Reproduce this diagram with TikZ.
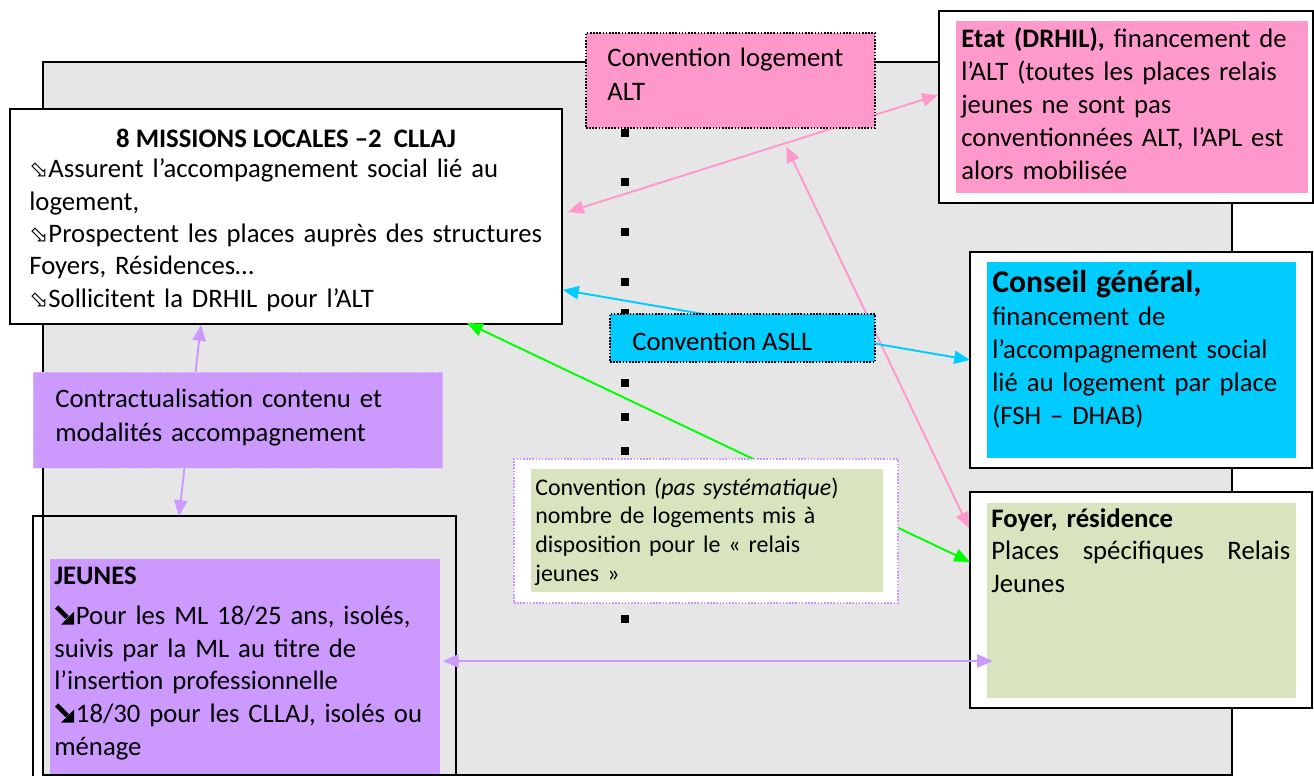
\documentclass[tikz,border=0pt]{standalone}
\usepackage{fontspec}
\setmainfont{Carlito}
\newfontfamily\symfont{DejaVu Sans}
\usepackage{tikz}
\usetikzlibrary{arrows.meta,positioning}
\definecolor{fondgris}{HTML}{E6E6E6}
\definecolor{rosealt}{HTML}{FF99CC}
\definecolor{bleuasll}{HTML}{00CCFF}
\definecolor{mauve}{HTML}{CC99FF}
\definecolor{vertpale}{HTML}{D7E4BD}
\definecolor{vertvif}{HTML}{00FF00}
\tikzset{
	cadre/.style={anchor=north west,inner sep=0pt,outer sep=0pt,draw=black,line width=0.85pt,fill=white},
	fond/.style={anchor=north west,inner sep=0pt,outer sep=0pt},
	pointille/.style={draw=black,line width=0.85pt,dash pattern=on 0.9pt off 0.9pt},
	texte/.style={anchor=base west,inner sep=0pt,align=left}}
\newcommand{\puce}{{\symfont\fontsize{13}{13}\selectfont ⬂}}
% fleche noire epaisse
\newcommand{\pucenoire}{\tikz[baseline=0pt]{\draw[line width=2.6pt] (0.5pt,10pt) -- (6.5pt,4pt);
		\fill (10.5pt,0pt) -- (10.5pt,7.5pt) -- (3pt,0pt) -- cycle;}\hspace{1pt}}
\newcommand{\taille}[1]{\fontsize{15.2}{#1}\selectfont}

\begin{document}
\begin{tikzpicture}[x=0.02cm,y=-0.02cm,
		lien/.style={line width=1.1pt,{Triangle[length=9pt,width=7.5pt]}-{Triangle[length=9pt,width=7.5pt]}}]
	\useasboundingbox (0,0) rectangle (1314,776);
	
	% fond gris
	\draw[fill=fondgris,line width=0.85pt] (43,62) rectangle (1232,775);
	\foreach \y in {133,182,232,282,313,383,417,451,619}
		\fill (621,\y-4) rectangle (629,\y+4);
	
	% missions locales
	\node[cadre,minimum width=11.04cm,minimum height=4.30cm] (missions) at (10,109) {};
	\node[font=\bfseries\taille{18.4},anchor=base,inner sep=0pt] (missionstitre) at (286,148) {8 MISSIONS LOCALES –2\ \ CLLAJ};
	\node[texte,text width=10.7cm,font=\taille{18.4}] (missionstxt) at (29,178) {\puce Assurent l’accompagnement social lié au\\logement,\\\puce Prospectent les places auprès des structures\\Foyers, Résidences…\\\puce Sollicitent la DRHIL pour l’ALT};
	
	% etat
	\node[cadre,minimum width=7.48cm,minimum height=3.84cm] (etatcadre) at (939,11) {};
	\node[fond,fill=rosealt,minimum width=7.04cm,minimum height=3.44cm] (etatfond) at (956,21) {};
	\node[texte,text width=6.9cm,font=\taille{18.7}] (etat) at (961,48) {\textbf{Etat (DRHIL),} financement de\\l’ALT (toutes les places relais\\jeunes ne sont pas\\conventionnées ALT, l’APL est\\alors mobilisée};
	
	% conseil general
	\node[cadre,minimum width=6.84cm,minimum height=4.32cm] (conseilcadre) at (970,252) {};
	\node[fond,fill=bleuasll,minimum width=6.18cm,minimum height=3.92cm] (conseilfond) at (987,262) {};
	\node[texte,text width=6cm,font=\taille{18.7}] (conseil) at (992,293) {{\fontsize{18}{19}\selectfont\bfseries Conseil général,}\\financement de\\l’accompagnement social\\lié au logement par place\\(FSH – DHAB)};
	
	% jeunes
	\node[cadre,fill=none,minimum width=8.46cm,minimum height=5.28cm] (jeunescadre) at (33,516) {};
	\node[fond,fill=mauve,minimum width=7.80cm,minimum height=4.30cm] (jeunesfond) at (50,559) {};
	\node[texte,text width=7.6cm,font=\taille{18.6}] (jeunes) at (54,584) {\textbf{JEUNES}\\[4.5pt]\pucenoire Pour les ML 18/25 ans, isolés,\\suivis par la ML au titre de\\l’insertion professionnelle\\\pucenoire 18/30 pour les CLLAJ, isolés ou\\ménage};
	
	% foyer
	\node[cadre,minimum width=6.84cm,minimum height=4.32cm] (foyercadre) at (970,492) {};
	\node[fond,fill=vertpale,minimum width=6.18cm,minimum height=3.90cm] (foyerfond) at (987,503) {};
	\node[texte,text width=5.98cm,font=\taille{18.6}] (foyer) at (991,527) {\textbf{Foyer, résidence}\\Places\hfill spécifiques\hfill Relais\\Jeunes};
	
	% liens
	\draw[lien,rosealt] ([shift={(6,-4.5)}]missions.east) -- coordinate[pos=0.586] (surALT) ([shift={(-1,-12)}]etatcadre.west);
	\draw[lien,rosealt,shorten <=2pt] (surALT) -- ([shift={(-1,36)}]foyercadre.north west);
	\draw[lien,bleuasll] ([shift={(1,-34)}]missions.south east) -- (conseilcadre.west);
	\draw[lien,vertvif] ([shift={(-95,-1)}]missions.south east) -- ([shift={(0,70)}]foyercadre.north west);
	\draw[lien,mauve] ([shift={(-85,1)}]missions.south) -- ([shift={(-65.5,0)}]jeunescadre.north);
	\draw[lien,mauve] ([shift={(3,-5.5)}]jeunesfond.east) -- ([shift={(6,60.5)}]foyerfond.west);
	
	% conventions
	\node[fond,fill=rosealt,pointille,minimum width=5.78cm,minimum height=1.90cm] (alt) at (586,33) {};
	\node[texte,text width=5cm,font=\taille{18.9}] (alttxt) at (607,67) {Convention logement\\ALT};
	\node[fond,fill=bleuasll,pointille,minimum width=5.30cm,minimum height=0.96cm] (asll) at (610,314) {};
	\node[texte,font=\taille{18.7}] (aslltxt) at (632,351) {Convention ASLL};
	\node[fond,fill=mauve,draw=white!45!mauve,line width=0.5pt,dash pattern=on 0.6pt off 0.6pt,minimum width=8.20cm,minimum height=1.92cm] (contrat) at (33,372) {};
	\node[texte,text width=7.5cm,font=\taille{18.8}] (contrattxt) at (55,408) {Contractualisation contenu et\\modalités accompagnement};
	\node[fond,fill=white,draw=mauve,line width=0.8pt,dash pattern=on 0.9pt off 0.9pt,minimum width=7.68cm,minimum height=2.88cm] (convcadre) at (514,459) {};
	\node[fond,fill=vertpale,minimum width=7.04cm,minimum height=2.46cm] (convfond) at (531,469) {};
	\node[texte,text width=6.9cm,font=\fontsize{13.6}{16.5}\selectfont] (conv) at (535,495) {Convention \textit{(pas systématique})\\nombre de logements mis à\\disposition pour le « relais\\jeunes »};
	
\end{tikzpicture}
\end{document}
